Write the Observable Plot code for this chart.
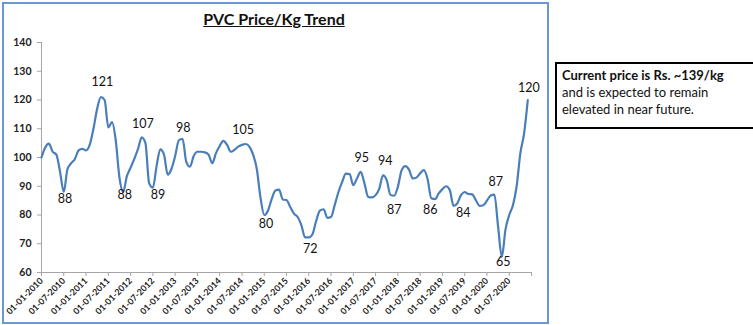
<!DOCTYPE html>
<html>
<head>
<meta charset="utf-8">
<script src="https://cdn.jsdelivr.net/npm/d3@7"></script>
<script src="https://cdn.jsdelivr.net/npm/@observablehq/plot@0.6"></script>
<style>
  html, body { margin: 0; padding: 0; background: #fff; }
  #wrap { position: relative; width: 753px; height: 325px; overflow: hidden; font-family: Lato, "Liberation Sans", sans-serif; }
  #frame { position: absolute; left: 2px; top: 2px; width: 543px; height: 318px; border: 2px solid #6a98d0; }
  #title { position: absolute; left: 0; width: 548px; top: 9px; text-align: center; font-weight: bold; font-size: 16px; text-decoration: underline; color: #111; }
  #chart { position: absolute; left: 0; top: 0; }
  #note { position: absolute; left: 555px; top: 62px; width: 191px; height: 60px; border: 2px solid #000; padding: 3px 0 0 5px; box-sizing: content-box; font-size: 13px; line-height: 17px; color: #111; white-space: nowrap; }
  #note b { font-weight: bold; }
</style>
</head>
<body>
<div id="wrap">
  <div id="chart"></div>
  <div id="frame"></div>
  <div id="title">PVC Price/Kg Trend</div>
  <div id="note"><b>Current price is Rs. ~139/kg</b><br>and is expected to remain<br>elevated in near future.</div>
</div>
<script>
// Monthly PVC price (Rs/kg), Jan 2010 .. Dec 2020
const prices = [
  100, 103.5, 104.8, 102, 101, 95, 88, 96, 98, 99.5, 102.5, 103,
  102.5, 104.5, 110, 117, 121, 120, 110.5, 112.3, 106, 93, 88, 93.5,
  96.5, 99.5, 103, 107, 105, 91, 89.5, 97, 102.8, 101, 94, 96,
  100.5, 106, 106.5, 98.5, 96.8, 100.5, 102, 102, 101.8, 101, 98, 101.5,
  104, 105.8, 104.4, 102, 102.7, 103.8, 104.4, 104.7, 103.8, 101, 96, 86,
  80, 81.5, 85.5, 88.5, 88.8, 85.4, 85.2, 82.8, 80.5, 79.3, 76.5, 72.2,
  72.2, 73.3, 78, 81.5, 82, 79, 79.3, 83.5, 88, 91.5, 94.4, 94.2,
  90.4, 92.8, 95, 91, 86.3, 86.1, 86.9, 89.2, 93.8, 92.1, 87, 86.7,
  89.8, 95.5, 97, 95.8, 92.7, 93, 94.5, 95.6, 92.5, 85.8, 85.5, 87.5,
  89, 90, 88.6, 83.2, 84, 86.9, 88, 87.3, 87.2, 85.2, 83.2, 83.4,
  85, 86.8, 87.1, 76, 65.4, 75, 80, 83.4, 90, 101.5, 108.3, 120
];
// Category tick labels every 6 months
const tickLabels = [
  "01-01-2010","01-07-2010","01-01-2011","01-07-2011","01-01-2012","01-07-2012",
  "01-01-2013","01-07-2013","01-01-2014","01-07-2014","01-01-2015","01-07-2015",
  "01-01-2016","01-07-2016","01-01-2017","01-07-2017","01-01-2018","01-07-2018",
  "01-01-2019","01-07-2019","01-01-2020","01-07-2020"
];
const yTicks = [60, 70, 80, 90, 100, 110, 120, 130, 140];
// Annotation labels: text, month position, vertical level where they sit
const labelText  = ["88","121","88","107","89","98","105","80","72","95","94","87","86","84","87","65","120"];
const labelMonth = [6.3, 16.4, 22.4, 27.3, 31.4, 38.2, 54.3, 60.5, 72.4, 86.3, 92.6, 95, 104.7, 113.6, 122.4, 124.4, 131.3];
const labelLevel = [85.4, 126.3, 87.1, 111.5, 87.1, 110.1, 109.5, 77.0, 68.3, 100, 98.8, 81.9, 81.9, 80.7, 91.5, 63.7, 124.3];

const series = prices.map((v, i) => ({i, v}));
const labels = labelText.map((t, k) => ({t, x: labelMonth[k], y: labelLevel[k]}));

const chart = Plot.plot({
  width: 550,
  height: 325,
  marginLeft: 41,
  marginRight: 19,
  marginTop: 42,
  marginBottom: 53,
  style: {fontFamily: "Lato, 'Liberation Sans', sans-serif", background: "transparent", overflow: "visible"},
  x: {domain: [0, 132], axis: null},
  y: {domain: [60, 140], axis: null},
  marks: [
    Plot.ruleX([0], {y1: 60, y2: 140, stroke: "#a6a6a6", strokeWidth: 1}),
    Plot.ruleY([60], {x1: 0, x2: 132, stroke: "#a6a6a6", strokeWidth: 1}),
    Plot.axisY({
      ticks: yTicks, tickSize: 4, tickPadding: 6, stroke: "#a6a6a6",
      fontSize: 10.5, fontWeight: "bold", fill: "#222", label: null
    }),
    Plot.axisX({
      ticks: d3.range(0, 133, 6), tickSize: 4, tickPadding: 3, tickRotate: -45,
      stroke: "#a6a6a6", fontSize: 8.8, fontWeight: "bold", fill: "#222", label: null,
      tickFormat: d => tickLabels[d / 6] ?? ""
    }),
    Plot.line(series, {x: "i", y: "v", stroke: "#4a7ebb", strokeWidth: 2.2, curve: "monotone-x"}),
    Plot.text(labels, {x: "x", y: "y", text: "t", fontSize: 12.5, fill: "#111"})
  ]
});
document.getElementById("chart").appendChild(chart);
</script>
</body>
</html>
